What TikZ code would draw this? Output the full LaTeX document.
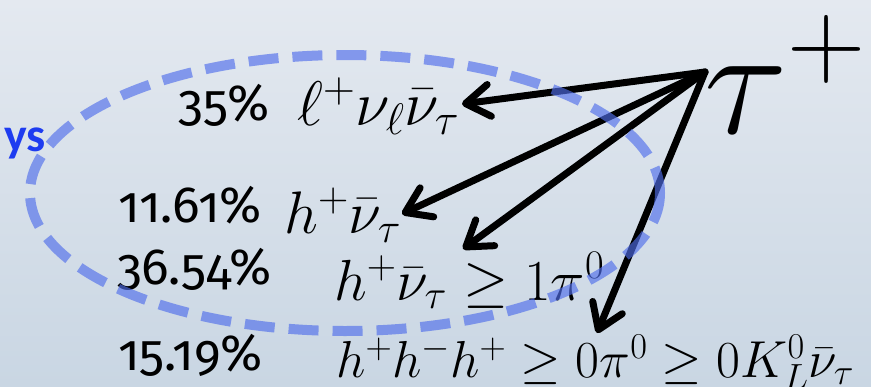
\documentclass[tikz,border=0pt]{standalone}
\usepackage{fix-cm}
\usepackage{fontspec}
\usetikzlibrary{arrows.meta,positioning}
\newfontfamily\pctfont[Numbers=OldStyle]{Fira Sans}
\newfontfamily\headfont{Carlito}
\definecolor{bgtop}{RGB}{228,233,240}
\definecolor{bgbot}{RGB}{201,214,227}
\definecolor{loopblue}{RGB}{80,110,235}
\definecolor{headblue}{RGB}{30,60,240}

\begin{document}
\begin{tikzpicture}[x=1pt,y=-1pt,
  pct/.style={anchor=base west, inner sep=0pt, font=\pctfont\fontsize{51}{56}\selectfont},
  chan/.style={anchor=base west, inner sep=0pt},
  arr/.style={line width=7pt, line cap=round, -{Straight Barb[round,length=24pt,width=32pt]}},
  loop/.style={draw=loopblue, opacity=0.65, line width=10pt, dash pattern=on 30pt off 14pt},
]
\shade[top color=bgtop, bottom color=bgbot] (0,0) rectangle (871,386);
\useasboundingbox (0,0) rectangle (871,386);

\node[anchor=base east, inner sep=0pt, text=headblue, font=\headfont\bfseries\fontsize{48}{52}\selectfont] (decays) at (46,151) {ys};

% branching fractions
\node[pct] (p1) at (178,120) {35\%};
\node[pct] (p2) at (118,222) {11.61\%};
\node[pct] (p3) at (117,284) {36.54\%};
\node[pct] (p4) at (118,370) {15.19\%};

% final states
\node[chan, font=\fontsize{63}{68}\selectfont] (lep) at (297,125) {$\ell^+\nu_\ell\bar\nu_\tau$};
\node[chan, font=\fontsize{60}{66}\selectfont] (had) at (284,233) {$h^+\bar\nu_\tau$};
\node[chan, font=\fontsize{58}{64}\selectfont] (hpi) at (334,300) {$h^+\bar\nu_\tau\geq 1\pi^0$};
\node[chan, font=\fontsize{52}{58}\selectfont] (three) at (336,377) {$h^+h^-h^+\geq 0\pi^0\geq 0K_L^0\bar\nu_\tau$};

\node[chan, font=\fontsize{155}{160}\selectfont] (tau) at (704,133) {$\tau^+$};

\coordinate (src) at (705,72);
\coordinate (e1) at (462,104);
\coordinate (e2) at (402,214);
\coordinate (e3) at (463,249);
\coordinate (e4) at (597,333);

\foreach \e in {e1,e2,e3,e4}
  \draw[arr] (src) -- (\e);

\draw[loop] (345,193) ellipse [x radius=315, y radius=138];
\end{tikzpicture}
\end{document}
